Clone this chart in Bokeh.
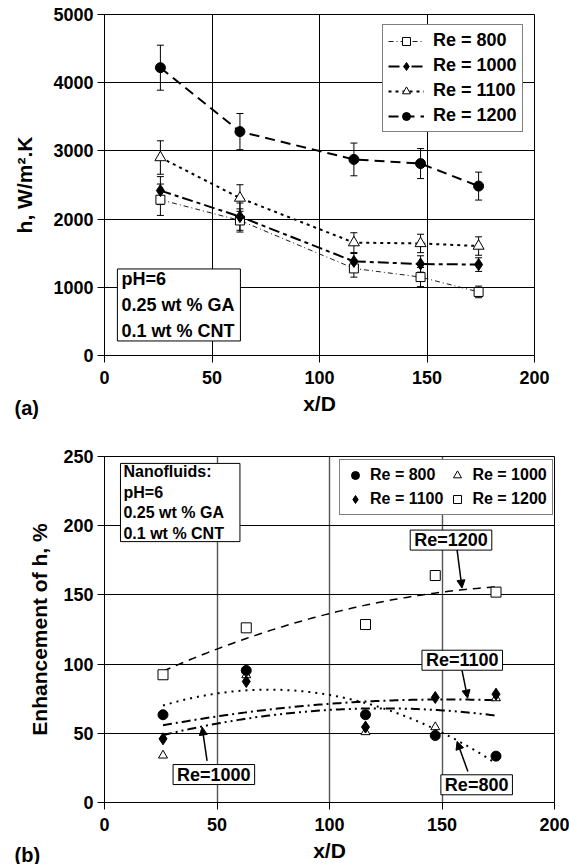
import numpy as np
from bokeh.plotting import figure
from bokeh.layouts import column
from bokeh.models import (Whisker, TeeHead, Legend, LegendItem, Label, Arrow, Title,
                          NormalHead, ColumnDataSource, FixedTicker, Range1d)
from bokeh.embed import file_html
from bokeh.resources import INLINE

# ---------------- data ----------------
x_d = [26, 63, 116, 147, 174]

# panel (a): heat transfer coefficient h, W/m2.K
h_re800 = [2284, 1980, 1277, 1150, 932]
h_re1000 = [2418, 2036, 1380, 1342, 1333]
h_re1100 = [2903, 2309, 1655, 1643, 1605]
h_re1200 = [4220, 3283, 2875, 2814, 2484]
err_re800 = [230, 170, 128, 140, 85]
err_re1000 = [205, 200, 115, 120, 100]
err_re1100 = [245, 195, 145, 135, 135]
err_re1200 = [330, 265, 240, 220, 205]

# panel (b): enhancement of h, %
enh_re800 = [63.4, 95.4, 63.4, 48.4, 33.5]
enh_re1000 = [34.0, 92.0, 50.9, 54.5, 75.4]
enh_re1100 = [46.0, 87.4, 54.5, 75.9, 78.3]
enh_re1200 = [92.3, 126.2, 128.6, 164.0, 152.0]

x_ticks = [0, 50, 100, 150, 200]
ya_ticks = [0, 1000, 2000, 3000, 4000, 5000]
yb_ticks = [0, 50, 100, 150, 200, 250]

# annotation arrows in panel (b): (x_start, y_start, x_end, y_end)
arrows_b = {
    "Re=1200": (156.7, 182.6, 158.9, 154.9),
    "Re=1100": (158.9, 95.4, 161.4, 75.4),
    "Re=1000": (45.6, 30.1, 43.4, 54.5),
    "Re=800": (161.5, 22.4, 156.7, 44.1),
}
labels_b = {
    "Re=1200": (154.0, 189.6),
    "Re=1100": (159.0, 102.8),
    "Re=1000": (48.6, 20.2),
    "Re=800": (165.4, 12.8),
}

FONT = "Liberation Sans"


def style(p, yticks):
    p.background_fill_color = "white"
    p.border_fill_color = "white"
    p.outline_line_color = "black"
    p.outline_line_width = 1
    p.xaxis.ticker = FixedTicker(ticks=x_ticks)
    p.yaxis.ticker = FixedTicker(ticks=yticks)
    for ax in (p.xaxis[0], p.yaxis[0]):
        ax.axis_line_color = "black"
        ax.axis_line_width = 1
        ax.major_tick_line_color = "black"
        ax.major_tick_out = 7
        ax.major_tick_in = 0
        ax.minor_tick_line_color = None
        ax.major_label_text_font = FONT
        ax.major_label_text_font_style = "bold"
        ax.major_label_text_font_size = "18px"
        ax.major_label_text_color = "black"
        ax.axis_label_text_font = FONT
        ax.axis_label_text_font_style = "bold"
        ax.axis_label_text_font_size = "21px"
        ax.axis_label_text_color = "black"
    p.xaxis.major_label_standoff = 8
    p.xaxis.axis_label = "x/D"
    p.xaxis.axis_label_standoff = 5
    p.yaxis.major_label_standoff = 4
    p.xgrid.grid_line_color = "black"
    p.ygrid.grid_line_color = "black"
    p.xgrid.grid_line_width = 1
    p.ygrid.grid_line_width = 1


def panel_tag(p, text):
    p.add_layout(Title(text=text, align="left", vertical_align="top", offset=-90,
                       standoff=-42, text_font=FONT, text_font_style="bold",
                       text_font_size="20px", text_color="black"), "below")


# ---------------- panel (a) ----------------
pa = figure(width=569, height=429, x_range=Range1d(0, 200), y_range=Range1d(0, 5000),
            output_backend="svg", toolbar_location=None, frame_align=False,
            min_border_left=104, min_border_right=35, min_border_top=14, min_border_bottom=74)
style(pa, ya_ticks)
pa.yaxis.axis_label = "h, W/m\u00b2.K"
pa.yaxis.axis_label_standoff = 14
panel_tag(pa, "(a)")

series_a = [
    ("Re = 800", h_re800, err_re800, "5 3 1 3", 0.9, "square", 9, "white"),
    ("Re = 1000", h_re1000, err_re1000, "11 4 4 4", 2.0, "diamond", 12, "black"),
    ("Re = 1100", h_re1100, err_re1100, "3 4", 2.0, "triangle", 11, "white"),
    ("Re = 1200", h_re1200, err_re1200, "10 6", 2.0, "circle", 10, "black"),
]
items_a = []
for lab, ys, es, dash, lw, mk, sz, fill in series_a:
    src = ColumnDataSource(dict(x=x_d, y=ys,
                                upper=[v + e for v, e in zip(ys, es)],
                                lower=[v - e for v, e in zip(ys, es)]))
    ln = pa.line("x", "y", source=src, line_color="black", line_width=lw, line_dash=dash)
    wh = Whisker(source=src, base="x", upper="upper", lower="lower",
                 line_color="black", line_width=1,
                 upper_head=TeeHead(size=7, line_color="black", line_width=1),
                 lower_head=TeeHead(size=7, line_color="black", line_width=1))
    pa.add_layout(wh)
    sc = pa.scatter("x", "y", source=src, marker=mk, size=sz, fill_color=fill,
                    line_color="black", line_width=1)
    items_a.append(LegendItem(label=lab, renderers=[ln, sc]))

leg_a = Legend(items=items_a, location=(278, 223), orientation="vertical",
               border_line_color="black", border_line_width=1,
               background_fill_color="white", background_fill_alpha=1,
               padding=5, spacing=4, margin=0, glyph_width=36, glyph_height=20,
               label_height=20, label_standoff=9, label_text_font=FONT,
               label_text_font_style="bold", label_text_font_size="18px",
               label_text_color="black")
pa.add_layout(leg_a, "center")

pa.add_layout(Label(x=6.0, y=1269, text="pH=6\n0.25 wt % GA\n0.1 wt % CNT",
                    text_align="left", text_baseline="top", text_font=FONT,
                    text_font_style="bold", text_font_size="18px", text_line_height=1.3,
                    text_color="black", border_line_color="black", border_line_width=1,
                    background_fill_color="white",
                    padding=dict(left=4, right=6, top=0, bottom=0)))

# ---------------- panel (b) ----------------
pb = figure(width=569, height=435, x_range=Range1d(0, 200), y_range=Range1d(0, 250),
            output_backend="svg", toolbar_location=None, frame_align=False,
            min_border_left=104, min_border_right=15, min_border_top=27, min_border_bottom=62)
style(pb, yb_ticks)
pb.xgrid.grid_line_color = "#555555"
pb.xgrid.grid_line_width = 1.4
pb.yaxis.axis_label = "Enhancement of h, %"
pb.yaxis.axis_label_standoff = 9
panel_tag(pb, "(b)")

xs_fit = np.linspace(min(x_d), max(x_d), 120)


def trend(ys):
    c = np.polyfit(x_d, ys, 2)
    return np.polyval(c, xs_fit)


trend_styles = [
    (enh_re1200, "8 6", 1.5),
    (enh_re800, "2 5", 2.0),
    (enh_re1000, "9 4 2 4 2 4", 2.0),
    (enh_re1100, "9 4 2 4", 2.0),
]
for ys, dash, lw in trend_styles:
    pb.line(xs_fit, trend(ys), line_color="black", line_width=lw, line_dash=dash)

series_b = [
    ("Re = 1000", enh_re1000, "triangle", 9, "white"),
    ("Re = 800", enh_re800, "circle", 10, "black"),
    ("Re = 1100", enh_re1100, "diamond", 12, "black"),
    ("Re = 1200", enh_re1200, "square", 10, "white"),
]
rend_b = {}
for lab, ys, mk, sz, fill in series_b:
    rend_b[lab] = pb.scatter(x_d, ys, marker=mk, size=sz, fill_color=fill,
                             line_color="black", line_width=1)

items_b = [LegendItem(label=l, renderers=[rend_b[l]])
           for l in ["Re = 800", "Re = 1000", "Re = 1100", "Re = 1200"]]
leg_b = Legend(items=items_b, location=(235, 287), orientation="horizontal", ncols=2,
               border_line_color="black", border_line_width=1,
               background_fill_color="white", background_fill_alpha=1,
               padding=5, spacing=4, margin=0, glyph_width=20, glyph_height=20,
               label_height=20, label_standoff=5, label_text_font=FONT,
               label_text_font_style="bold", label_text_font_size="16px",
               label_text_color="black")
pb.add_layout(leg_b, "center")

pb.add_layout(Label(x=7.1, y=245, text="Nanofluids:\npH=6\n0.25 wt % GA\n0.1 wt % CNT",
                    text_align="left", text_baseline="top", text_font=FONT,
                    text_font_style="bold", text_font_size="16px", text_line_height=1.2,
                    text_color="black", border_line_color="black", border_line_width=1,
                    background_fill_color="white",
                    padding=dict(left=3, right=16, top=0, bottom=0)))

for key, (xs, ys, xe, ye) in arrows_b.items():
    pb.add_layout(Arrow(x_start=xs, y_start=ys, x_end=xe, y_end=ye, line_color="black",
                        line_width=1.5,
                        end=NormalHead(size=8, fill_color="black", line_color="black")))
for key, (lx, ly) in labels_b.items():
    pb.add_layout(Label(x=lx, y=ly, text=key, text_align="center", text_baseline="middle",
                        text_font=FONT, text_font_style="bold", text_font_size="18px",
                        text_color="black", border_line_color="black", border_line_width=1,
                        background_fill_color="white",
                        padding=dict(left=4, right=4, top=0, bottom=0)))

layout = column(pa, pb, spacing=0)
open("out.html", "w").write(file_html(layout, INLINE))
